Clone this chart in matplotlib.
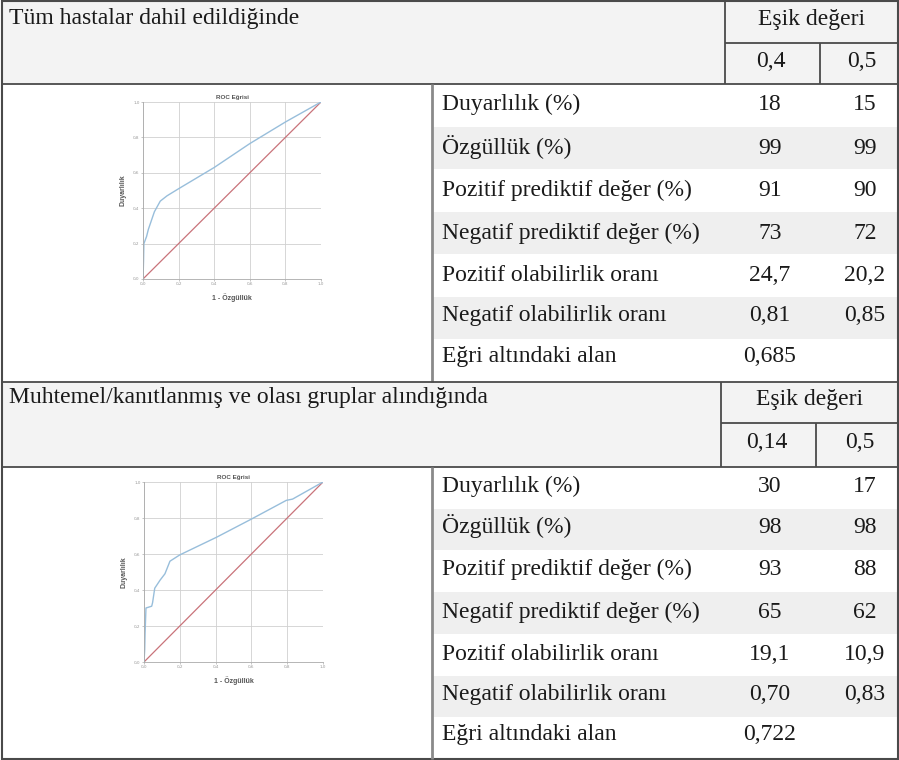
import numpy as np
import matplotlib
matplotlib.use("Agg")
from matplotlib import pyplot as plt
from matplotlib.patches import Rectangle
from matplotlib.ticker import FuncFormatter

W, H = 899, 760

# table content
row_labels = ["Duyarlılık (%)", "Özgüllük (%)", "Pozitif prediktif değer (%)",
              "Negatif prediktif değer (%)", "Pozitif olabilirlik oranı",
              "Negatif olabilirlik oranı", "Eğri altındaki alan"]
titles = ["Tüm hastalar dahil edildiğinde",
          "Muhtemel/kanıtlanmış ve olası gruplar alındığında"]
thr_header = "Eşik değeri"
thresholds1 = ["0,4", "0,5"]
thresholds2 = ["0,14", "0,5"]
vals1_a = ["18", "99", "91", "73", "24,7", "0,81", "0,685"]
vals1_b = ["15", "99", "90", "72", "20,2", "0,85", ""]
vals2_a = ["30", "98", "93", "65", "19,1", "0,70", "0,722"]
vals2_b = ["17", "98", "88", "62", "10,9", "0,83", ""]

# ROC curves
roc1_fpr = [0.0, 0.003, 0.005, 0.02, 0.03, 0.064, 0.097, 0.135, 0.2, 0.4, 0.6, 0.8, 1.0]
roc1_tpr = [0.0, 0.10, 0.20, 0.24, 0.28, 0.38, 0.44, 0.47, 0.51, 0.63, 0.765, 0.887, 1.0]
roc2_fpr = [0.0, 0.004, 0.006, 0.011, 0.043, 0.048, 0.06, 0.09, 0.117, 0.145, 0.17, 0.2,
            0.405, 0.6, 0.795, 0.83, 1.0]
roc2_tpr = [0.0, 0.07, 0.16, 0.30, 0.31, 0.33, 0.41, 0.455, 0.49, 0.56, 0.576, 0.595,
            0.693, 0.794, 0.898, 0.905, 1.0]

serif = "Liberation Serif"
sans = "Liberation Sans"
line_c = "#4a4a4a"
shade_c = "#efefef"
head_c = "#f3f3f3"
txt_c = "#1a1a1a"
fs = 17

fig = plt.figure(figsize=(W / 100, H / 100), dpi=100)
ax = fig.add_axes([0, 0, 1, 1])
ax.set_xlim(0, W)
ax.set_ylim(H, 0)
ax.axis("off")


def hline(y, x0, x1, lw=1.3, c=line_c):
    ax.plot([x0, x1], [y, y], color=c, lw=lw, solid_capstyle="butt")


def vline(x, y0, y1, lw=1.3, c=line_c):
    ax.plot([x, x], [y0, y1], color=c, lw=lw, solid_capstyle="butt")


def put(x, base, s, ha="center"):
    ax.text(x, base, s, family=serif, fontsize=fs, va="baseline", ha=ha, color=txt_c)


def section(top, split, bottom, c1, c2, title, thr, va, vb, head_base, row_base):
    # header
    ax.add_patch(Rectangle((2, top), W - 4, split[2] - top, color=head_c, lw=0))
    put(9, head_base[0], title, ha="left")
    put((c1 + W) / 2, head_base[1], thr_header)
    hline(split[1], c1, W - 1)
    vline(c1, top, split[2])
    vline(c2, split[1], split[2])
    put((c1 + c2) / 2 - 2, head_base[2], thr[0])
    put((c2 + W) / 2 + 2, head_base[2], thr[1])
    hline(split[2], 2, W - 1)
    # body rows
    n = len(row_labels)
    rh = (bottom - split[2]) / n
    for i in range(n):
        y0 = split[2] + i * rh
        if i % 2 == 1:
            ax.add_patch(Rectangle((433, y0), W - 434, rh, color=shade_c, lw=0))
        put(442, row_base[i], row_labels[i], ha="left")
        put(770, row_base[i], va[i])
        put(865, row_base[i], vb[i])
    vline(432, split[2], bottom, lw=2.0, c="#8a8a8a")


section(1, (1, 43, 84), 382, 725, 820, titles[0], thresholds1, vals1_a, vals1_b,
        (24, 25, 67), [110, 154, 196, 239, 281, 321, 362])
section(382, (382, 423, 467), 759, 721, 816, titles[1], thresholds2, vals2_a, vals2_b,
        (403, 405, 448), [492, 533, 575, 618, 660, 700, 740])

hline(382, 2, W - 1)
# outer border
ax.add_patch(Rectangle((2, 1), W - 3, H - 2, fill=False, ec=line_c, lw=1.5))


def roc(rect, fpr, tpr):
    a = fig.add_axes(rect)
    a.plot([0, 1], [0, 1], color="#c9737a", lw=0.9)
    a.plot(fpr, tpr, color="#98bedb", lw=1.0)
    a.set_xlim(0, 1)
    a.set_ylim(0, 1)
    ticks = np.arange(0, 1.01, 0.2)
    a.set_xticks(ticks)
    a.set_yticks(ticks)
    fmt = FuncFormatter(lambda v, p: f"{v:.1f}".replace(".", ","))
    a.xaxis.set_major_formatter(fmt)
    a.yaxis.set_major_formatter(fmt)
    a.tick_params(labelsize=3, length=1.5, width=0.4, colors="#999", pad=1)
    a.grid(True, color="#d0d0d0", lw=0.6)
    for s in ["top", "right"]:
        a.spines[s].set_visible(False)
    for s in ["left", "bottom"]:
        a.spines[s].set_color("#aaa")
        a.spines[s].set_linewidth(0.6)
    a.set_title("ROC Eğrisi", family=sans, fontsize=4.5, color="#555",
                fontweight="bold", pad=2)
    a.set_xlabel("1 - Özgüllük", family=sans, fontsize=5, color="#555",
                 fontweight="bold", labelpad=5)
    a.set_ylabel("Duyarlılık", family=sans, fontsize=5, color="#555",
                 fontweight="bold", labelpad=5)


roc([143 / W, 1 - 279 / H, 178 / W, 177 / H], roc1_fpr, roc1_tpr)
roc([144 / W, 1 - 662 / H, 179 / W, 180 / H], roc2_fpr, roc2_tpr)

fig.savefig("out.png", dpi=100)
